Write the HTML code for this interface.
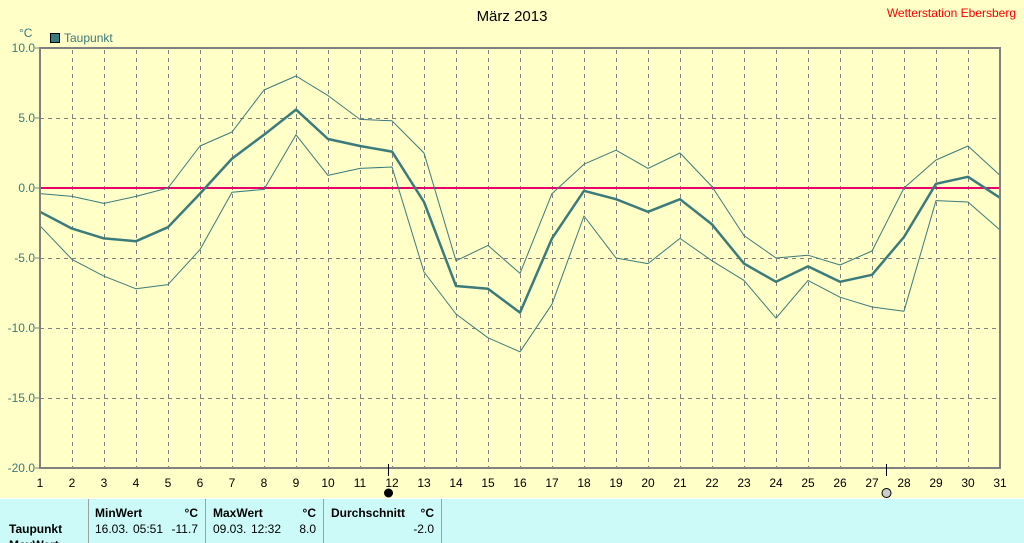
<!DOCTYPE html>
<html><head><meta charset="utf-8"><style>
body{margin:0;width:1024px;height:543px;overflow:hidden;background:#ffffc8;font-family:"Liberation Sans",sans-serif;}
</style></head><body>
<svg width="1024" height="543" xmlns="http://www.w3.org/2000/svg" style="position:absolute;left:0;top:0">
<rect x="0" y="0" width="1024" height="543" fill="#ffffc8"/>
<text x="512" y="21" font-size="15" text-anchor="middle" fill="#000">März 2013</text>
<text x="1016" y="17" font-size="12" text-anchor="end" fill="#ff0000">Wetterstation Ebersberg</text>
<text x="19" y="37" font-size="12" fill="#3c7878">°C</text>
<rect x="50.5" y="33.5" width="9" height="9" fill="#3b7b7b" stroke="#000" stroke-width="1"/>
<text x="64" y="42" font-size="12" fill="#3c7878">Taupunkt</text>
<g stroke="#808080" stroke-width="1" stroke-dasharray="4,4">
<line x1="40" y1="118.5" x2="1000" y2="118.5"/><line x1="40" y1="258.5" x2="1000" y2="258.5"/><line x1="40" y1="328.5" x2="1000" y2="328.5"/><line x1="40" y1="398.5" x2="1000" y2="398.5"/>
<line x1="72.5" y1="50" x2="72.5" y2="467"/><line x1="104.5" y1="50" x2="104.5" y2="467"/><line x1="136.5" y1="50" x2="136.5" y2="467"/><line x1="168.5" y1="50" x2="168.5" y2="467"/><line x1="200.5" y1="50" x2="200.5" y2="467"/><line x1="232.5" y1="50" x2="232.5" y2="467"/><line x1="264.5" y1="50" x2="264.5" y2="467"/><line x1="296.5" y1="50" x2="296.5" y2="467"/><line x1="328.5" y1="50" x2="328.5" y2="467"/><line x1="360.5" y1="50" x2="360.5" y2="467"/><line x1="392.5" y1="50" x2="392.5" y2="467"/><line x1="424.5" y1="50" x2="424.5" y2="467"/><line x1="456.5" y1="50" x2="456.5" y2="467"/><line x1="488.5" y1="50" x2="488.5" y2="467"/><line x1="520.5" y1="50" x2="520.5" y2="467"/><line x1="552.5" y1="50" x2="552.5" y2="467"/><line x1="584.5" y1="50" x2="584.5" y2="467"/><line x1="616.5" y1="50" x2="616.5" y2="467"/><line x1="648.5" y1="50" x2="648.5" y2="467"/><line x1="680.5" y1="50" x2="680.5" y2="467"/><line x1="712.5" y1="50" x2="712.5" y2="467"/><line x1="744.5" y1="50" x2="744.5" y2="467"/><line x1="776.5" y1="50" x2="776.5" y2="467"/><line x1="808.5" y1="50" x2="808.5" y2="467"/><line x1="840.5" y1="50" x2="840.5" y2="467"/><line x1="872.5" y1="50" x2="872.5" y2="467"/><line x1="904.5" y1="50" x2="904.5" y2="467"/><line x1="936.5" y1="50" x2="936.5" y2="467"/><line x1="968.5" y1="50" x2="968.5" y2="467"/>
</g>
<line x1="40" y1="188" x2="1000" y2="188" stroke="#e8006a" stroke-width="2"/>
<g fill="none" stroke="#3b7b7b" stroke-linejoin="round">
<polyline stroke-width="1" points="40,193.6 72,196.4 104,203.4 136,196.4 168,188 200,146 232,132 264,90 296,76 328,95.6 360,119.4 392,120.8 424,153 456,260.8 488,245.4 520,273.4 552,193.6 584,164.2 616,150.2 648,168.4 680,153 712,186.6 744,235.6 776,258 808,255.2 840,265 872,251 904,188 936,160 968,146 1000,175.4"/>
<polyline stroke-width="1" points="40,225.8 72,259.4 104,276.2 136,288.8 168,284.6 200,249.6 232,192.2 264,189.4 296,134.8 328,175.4 360,168.4 392,167 424,272 456,314 488,337.8 520,351.8 552,304.2 584,216 616,258 648,263.6 680,238.4 712,260.8 744,280.4 776,318.2 808,280.4 840,297.2 872,307 904,311.2 936,200.6 968,202 1000,230"/>
<polyline stroke-width="2.5" points="40,211.8 72,228.6 104,238.4 136,241.2 168,227.2 200,193.6 232,158.6 264,134.8 296,109.6 328,139 360,146 392,151.6 424,202 456,286 488,288.8 520,312.6 552,238.4 584,190.8 616,199.2 648,211.8 680,199.2 712,224.4 744,263.6 776,281.8 808,266.4 840,281.8 872,274.8 904,237 936,183.8 968,176.8 1000,197.8"/>
</g>
<path d="M40,468 V48 H1000 V468 Z" fill="none" stroke="#808080" stroke-width="2"/>
<g stroke="#808080" stroke-width="1">
<line x1="35" y1="48" x2="40" y2="48"/><line x1="35" y1="118" x2="40" y2="118"/><line x1="35" y1="188" x2="40" y2="188"/><line x1="35" y1="258" x2="40" y2="258"/><line x1="35" y1="328" x2="40" y2="328"/><line x1="35" y1="398" x2="40" y2="398"/><line x1="35" y1="468" x2="40" y2="468"/>
</g>
<g font-size="12" fill="#3c7878" text-anchor="end">
<text x="35" y="52">10.0</text><text x="35" y="122">5.0</text><text x="35" y="192">0.0</text><text x="35" y="262">-5.0</text><text x="35" y="332">-10.0</text><text x="35" y="402">-15.0</text><text x="35" y="472">-20.0</text>
</g>
<line x1="388.5" y1="464" x2="388.5" y2="476" stroke="#000"/>
<line x1="886.5" y1="464" x2="886.5" y2="476" stroke="#000"/>
<circle cx="388.5" cy="493" r="4.5" fill="#000"/>
<circle cx="886.5" cy="493" r="4.5" fill="#ccc" stroke="#000"/>
<g font-size="12" fill="#000" text-anchor="middle">
<text x="40" y="487">1</text><text x="72" y="487">2</text><text x="104" y="487">3</text><text x="136" y="487">4</text><text x="168" y="487">5</text><text x="200" y="487">6</text><text x="232" y="487">7</text><text x="264" y="487">8</text><text x="296" y="487">9</text><text x="328" y="487">10</text><text x="360" y="487">11</text><text x="392" y="487">12</text><text x="424" y="487">13</text><text x="456" y="487">14</text><text x="488" y="487">15</text><text x="520" y="487">16</text><text x="552" y="487">17</text><text x="584" y="487">18</text><text x="616" y="487">19</text><text x="648" y="487">20</text><text x="680" y="487">21</text><text x="712" y="487">22</text><text x="744" y="487">23</text><text x="776" y="487">24</text><text x="808" y="487">25</text><text x="840" y="487">26</text><text x="872" y="487">27</text><text x="904" y="487">28</text><text x="936" y="487">29</text><text x="968" y="487">30</text><text x="1000" y="487">31</text>
</g>
<rect x="0" y="499" width="1024" height="44" fill="#ccfaf8"/>
<line x1="0" y1="498.5" x2="1024" y2="498.5" stroke="#fff"/>
<g stroke="#a0a0a0" stroke-width="1">
<line x1="88.5" y1="499" x2="88.5" y2="543"/><line x1="205.5" y1="499" x2="205.5" y2="543"/><line x1="323.5" y1="499" x2="323.5" y2="543"/><line x1="441.5" y1="499" x2="441.5" y2="543"/>
</g>
<g font-size="12" fill="#000">
<text x="95" y="517" font-weight="bold">MinWert</text><text x="198" y="517" font-weight="bold" text-anchor="end">°C</text>
<text x="213" y="517" font-weight="bold">MaxWert</text><text x="316" y="517" font-weight="bold" text-anchor="end">°C</text>
<text x="331" y="517" font-weight="bold">Durchschnitt</text><text x="434" y="517" font-weight="bold" text-anchor="end">°C</text>
<text x="9" y="533" font-weight="bold">Taupunkt</text>
<text x="95" y="533">16.03.</text><text x="133" y="533">05:51</text><text x="198" y="533" text-anchor="end">-11.7</text>
<text x="213" y="533">09.03.</text><text x="251" y="533">12:32</text><text x="316" y="533" text-anchor="end">8.0</text>
<text x="434" y="533" text-anchor="end">-2.0</text>
<text x="9" y="549" font-weight="bold">MaxWert</text>
</g>
</svg>
</body></html>
